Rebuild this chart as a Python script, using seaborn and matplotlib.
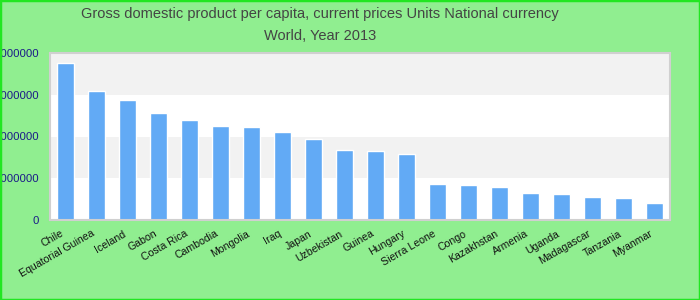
import matplotlib
matplotlib.use("Agg")
import matplotlib.pyplot as plt
import matplotlib.transforms as mtransforms
import seaborn as sns
import pandas as pd
from matplotlib.patches import Rectangle

countries = ["Chile", "Equatorial Guinea", "Iceland", "Gabon", "Costa Rica", "Cambodia",
             "Mongolia", "Iraq", "Japan", "Uzbekistan", "Guinea", "Hungary", "Sierra Leone",
             "Congo", "Kazakhstan", "Armenia", "Uganda", "Madagascar", "Tanzania", "Myanmar"]
values = [7540000, 6190000, 5760000, 5140000, 4800000, 4510000, 4460000, 4220000, 3890000,
          3360000, 3310000, 3170000, 1730000, 1680000, 1580000, 1300000, 1250000, 1100000,
          1060000, 820000]
yticks = [0, 2000000, 4000000, 6000000, 8000000]
title_lines = ["Gross domestic product per capita, current prices Units National currency",
               "World, Year 2013"]

df = pd.DataFrame({"country": countries, "value": values})

sns.set_style("white")
plt.rcParams["font.family"] = ["Liberation Sans", "DejaVu Sans"]

fig = plt.figure(figsize=(7, 3), dpi=100, facecolor="#90ee90")
ax = fig.add_axes([50/700, 1-220/300, 620/700, 167/300])
ax.set_facecolor("white")

for i in range(len(yticks) - 1):
    if i % 2 == 1:
        ax.axhspan(yticks[i], yticks[i+1], color="#f2f2f2", zorder=0, lw=0)

sns.barplot(data=df, x="country", y="value", color="#62aaf5", width=0.55,
            saturation=1, ax=ax, zorder=2)

ax.set_ylim(yticks[0], yticks[-1])
ax.set_xlim(-0.5, len(countries) - 0.5)
ax.set_yticks(yticks)
ax.set_yticklabels([str(v) for v in yticks])
ax.tick_params(axis="y", length=0, pad=8, labelsize=8.2, labelcolor="#1a1a88")
ax.tick_params(axis="x", length=0, pad=4, labelsize=7.6, labelcolor="#111111")
offset = mtransforms.ScaledTranslation(-5/100, -3/100, fig.dpi_scale_trans)
for lbl in ax.get_xticklabels():
    lbl.set_rotation(30)
    lbl.set_ha("right")
    lbl.set_rotation_mode("anchor")
    lbl.set_transform(lbl.get_transform() + offset)
ax.set_xlabel("")
ax.set_ylabel("")
for s in ax.spines.values():
    s.set_color("#d0d0d0")
    s.set_linewidth(1.5)

fig.text(320/700, 1-14/300, title_lines[0], ha="center", va="center",
         fontsize=10.5, color="#444444")
fig.text(320/700, 1-36/300, title_lines[1], ha="center", va="center",
         fontsize=10.5, color="#444444")

fig.patches.append(Rectangle((0, 0), 1, 1, transform=fig.transFigure, fill=False,
                             edgecolor="#22e622", linewidth=2.5, zorder=10))

fig.savefig("out.png", dpi=100, facecolor=fig.get_facecolor())
